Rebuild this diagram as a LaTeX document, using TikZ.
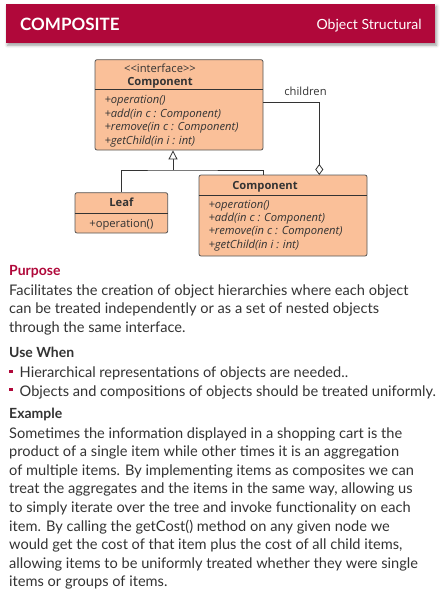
\documentclass[tikz,border=0pt]{standalone}
\usepackage{fontspec}
\setmainfont{Lato}
\newfontfamily\umlfont{Open Sans}
\usetikzlibrary{arrows.meta,shadows.blur}
\definecolor{cred}{HTML}{B0083A}
\definecolor{cpeach}{HTML}{FAC099}
\definecolor{cline}{HTML}{555555}
\definecolor{ctext}{HTML}{333333}

\tikzset{
  umlbox/.style={draw=cline, fill=cpeach, rounded corners=2pt, line width=0.8pt, inner sep=0pt},
  umltxt/.style={font=\umlfont\fontsize{11.2}{13}\selectfont\itshape, text=ctext, anchor=base west, inner sep=0pt},
  umlhead/.style={font=\umlfont\fontsize{11.2}{13}\selectfont\bfseries, text=ctext, anchor=base, inner sep=0pt},
  body/.style={font=\fontsize{14.6}{18.5}\selectfont, text=ctext, anchor=base west, inner sep=0pt},
  bodyhead/.style={body, font=\fontsize{14}{18.5}\selectfont\bfseries},
  bullet/.style={fill=cred, minimum size=3.2pt, inner sep=0pt},
  link/.style={draw=ctext, line width=0.8pt},
}

\begin{document}
\begin{tikzpicture}[x=1pt, y=-1pt]
    \useasboundingbox (0,0) rectangle (441,594);

    % banner
    \node[fill=cred, minimum width=429pt, minimum height=38.7pt, inner sep=0pt,
      blur shadow={shadow xshift=1.5pt, shadow yshift=-2.5pt, shadow blur radius=3pt, shadow opacity=40}]
      (banner) at (220.5, 23.35) {};
    \node[font=\fontsize{17}{20}\selectfont\bfseries, text=white, anchor=base west, inner sep=0pt] (title) at (20, 30.7) {COMPOSITE};
    \node[font=\fontsize{14}{17}\selectfont, text=white, anchor=base east, inner sep=0pt] (category) at (421.7, 30) {Object Structural};

    % class boxes
    \node[umlbox, minimum width=168pt, minimum height=90.3pt] (iface) at (179, 104.85) {};
    \draw[link] (iface.west |- 0,89.7) -- (iface.east |- 0,89.7);
    \node[umlhead, font=\umlfont\fontsize{11.2}{13}\selectfont] (stereo) at (160, 73) {<<interface>>};
    \node[umlhead] (ifacename) at (160, 85) {Component};
    \node[umltxt] (iop1) at (104.3, 103.3) {+operation()};
    \node[umltxt] (iop2) at (104.3, 117.1) {+add(in c : Component)};
    \node[umltxt] (iop3) at (104.3, 130.9) {+remove(in c : Component)};
    \node[umltxt] (iop4) at (104.3, 144.7) {+getChild(in i : int)};

    \node[umlbox, minimum width=92.7pt, minimum height=40.3pt] (leaf) at (121.35, 212.85) {};
    \draw[link] (leaf.west |- 0,213) -- (leaf.east |- 0,213);
    \node[umlhead] (leafname) at (121.35, 206.7) {Leaf};
    \node[umlhead, font=\umlfont\fontsize{11.2}{13}\selectfont] (lop1) at (121.35, 227) {+operation()};

    \node[umlbox, minimum width=168pt, minimum height=81pt] (comp) at (283, 215.5) {};
    \draw[link] (comp.west |- 0,195) -- (comp.east |- 0,195);
    \node[umlhead] (compname) at (265, 189) {Component};
    \node[umltxt] (cop1) at (208.3, 208.3) {+operation()};
    \node[umltxt] (cop2) at (208.3, 221.3) {+add(in c : Component)};
    \node[umltxt] (cop3) at (208.3, 234.3) {+remove(in c : Component)};
    \node[umltxt] (cop4) at (208.3, 248) {+getChild(in i : int)};

    % inheritance and aggregation
    \coordinate (joint) at (173, 170);
    \coordinate (compin) at (263, 175);
    \coordinate (compagg) at (319.3, 175);
    \draw[link] (leaf.north) |- (joint) -| (compin);
    \draw[link, -{Triangle[open, width=9pt, length=9pt, fill=white]}] (joint) -- (joint |- iface.south);
    \draw[link, {Diamond[open, width=8pt, length=11pt, fill=white]}-] (compagg) |- (iface.east |- 0,102);
    \node[umlhead, font=\umlfont\fontsize{11.2}{13}\selectfont] (children) at (305.5, 95) {children};

    % text
    \node[bodyhead, text=cred] (purpose) at (9, 275.7) {Purpose};
    \node[body] (p1) at (9, 295) {Facilitates the creation of object hierarchies where each object};
    \node[body] (p2) at (9, 313.6) {can be treated independently or as a set of nested objects};
    \node[body] (p3) at (9, 332.2) {through the same interface.};

    \node[bodyhead] (usewhen) at (9, 357.7) {Use When};
    \node[bullet] (b1) at (11, 371.3) {};
    \node[body] (u1) at (19.5, 377.7) {Hierarchical representations of objects are needed..};
    \node[bullet] (b2) at (11, 389.6) {};
    \node[body] (u2) at (19.5, 396) {Objects and compositions of objects should be treated uniformly.};

    \node[bodyhead] (example) at (9, 418.3) {Example};
    \node[body] (e1) at (9, 438.3) {Sometimes the information displayed in a shopping cart is the};
    \node[body] (e2) at (9, 456.85) {product of a single item while other times it is an aggregation};
    \node[body] (e3) at (9, 475.4) {of multiple items. By implementing items as composites we can};
    \node[body] (e4) at (9, 493.95) {treat the aggregates and the items in the same way, allowing us};
    \node[body] (e5) at (9, 512.5) {to simply iterate over the tree and invoke functionality on each};
    \node[body] (e6) at (9, 531.05) {item. By calling the getCost() method on any given node we};
    \node[body] (e7) at (9, 549.6) {would get the cost of that item plus the cost of all child items,};
    \node[body] (e8) at (9, 568.15) {allowing items to be uniformly treated whether they were single};
    \node[body] (e9) at (9, 586.7) {items or groups of items.};
\end{tikzpicture}
\end{document}
